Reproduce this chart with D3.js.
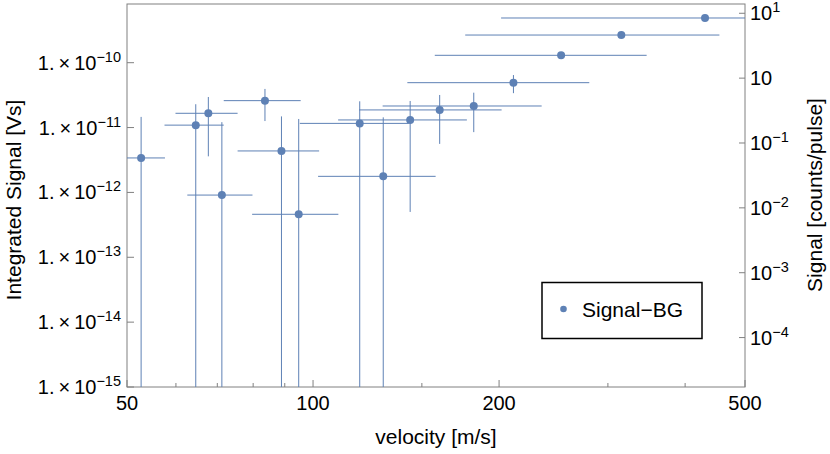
<!DOCTYPE html>
<html>
<head>
<meta charset="utf-8">
<script src="https://cdn.jsdelivr.net/npm/d3@7"></script>
<style>
  html, body { margin: 0; padding: 0; background: #fff; }
  text { font-family: "Liberation Sans", Arial, sans-serif; fill: #000; }
</style>
</head>
<body>
<svg id="chart" width="830" height="454"></svg>
<script>
// ---- data ----
const velocity = [52.7, 64.6, 67.7, 71.2, 83.6, 88.9, 94.8, 119, 129.9, 143.6, 160.3, 182, 211, 252, 315.4, 430.8];
const velocityErr = [4.9, 7.1, 7.8, 8.6, 11.9, 13.4, 15.1, 23.8, 28, 33.8, 41.6, 52.4, 68.9, 94.6, 139.1, 229.3];
const signal = [3.40e-12, 1.09e-11, 1.66e-11, 9.1e-13, 2.60e-11, 4.36e-12, 4.6e-13, 1.16e-11, 1.77e-12, 1.31e-11, 1.87e-11, 2.15e-11, 4.92e-11, 1.30e-10, 2.67e-10, 4.89e-10];
const signalErr = [1.12e-11, 1.2e-11, 1.3e-11, 1.12e-11, 1.34e-11, 1.05e-11, 1.31e-11, 1.38e-11, 1.26e-11, 1.26e-11, 1.31e-11, 1.3e-11, 1.53e-11, 1.4e-11, 1.4e-11, 1.4e-11];
const xTicks = [50, 100, 200, 500];
const xMinorTicks = [60, 70, 80, 90, 150, 300, 400];
const leftTicks = [1e-10, 1e-11, 1e-12, 1e-13, 1e-14, 1e-15];
const rightTicks = [10, 1, 0.1, 0.01, 0.001, 0.0001];
const rightTickLabels = [["10", "1"], ["10", ""], ["10", "−1"], ["10", "−2"], ["10", "−3"], ["10", "−4"]];
const seriesName = "Signal−BG";

// ---- layout ----
const L = 127, R = 745, T = 4, B = 387;
const color = "#5e81b5";
const axisColor = "#808080";

const x = d3.scaleLog().domain([50, 500]).range([L, R]);
const y = d3.scaleLog().domain([1e-15, Math.pow(10, -9.095)]).range([B, T]);
const y2 = d3.scaleLog().domain([Math.pow(10, -4.762), Math.pow(10, 1.143)]).range([B, T]);

const svg = d3.select("#chart");

svg.append("defs").append("clipPath").attr("id", "clip")
  .append("rect").attr("x", L).attr("y", T).attr("width", R - L).attr("height", B - T);

// frame
svg.append("rect").attr("x", L).attr("y", T).attr("width", R - L).attr("height", B - T)
  .attr("fill", "none").attr("stroke", axisColor).attr("stroke-width", 1);

// ticks
const tg = svg.append("g").attr("stroke", axisColor).attr("stroke-width", 1);
xTicks.forEach(v => tg.append("line").attr("x1", x(v)).attr("x2", x(v)).attr("y1", B).attr("y2", B - 7));
xMinorTicks.forEach(v => tg.append("line").attr("x1", x(v)).attr("x2", x(v)).attr("y1", B).attr("y2", B - 4));
leftTicks.forEach(v => tg.append("line").attr("x1", L).attr("x2", L + 7).attr("y1", y(v)).attr("y2", y(v)));
rightTicks.forEach(v => tg.append("line").attr("x1", R).attr("x2", R - 6).attr("y1", y2(v)).attr("y2", y2(v)));

// tick labels
const fs = 20;
xTicks.forEach(v => svg.append("text").attr("x", x(v)).attr("y", 410)
  .attr("text-anchor", "middle").attr("font-size", fs).text(v));

leftTicks.forEach(v => {
  const e = Math.round(Math.log10(v));
  const t = svg.append("text").attr("x", 121).attr("y", y(v) + 7)
    .attr("text-anchor", "end").attr("font-size", fs);
  t.append("tspan").text("1.\u2009\u00d7\u200910");
  t.append("tspan").attr("dy", -8).attr("font-size", 14.5).text("\u2212" + Math.abs(e));
});

rightTicks.forEach((v, i) => {
  const t = svg.append("text").attr("x", 750).attr("y", y2(v) + 7)
    .attr("text-anchor", "start").attr("font-size", fs);
  t.append("tspan").text(rightTickLabels[i][0]);
  if (rightTickLabels[i][1]) t.append("tspan").attr("dy", -8).attr("font-size", 14.5).text(rightTickLabels[i][1]);
});

// axis titles
svg.append("text").attr("x", 436).attr("y", 444).attr("text-anchor", "middle")
  .attr("font-size", 21).text("velocity [m/s]");
svg.append("text").attr("transform", "translate(21,200) rotate(-90)").attr("text-anchor", "middle")
  .attr("font-size", 21).text("Integrated Signal [Vs]");
svg.append("text").attr("transform", "translate(822,195) rotate(-90)").attr("text-anchor", "middle")
  .attr("font-size", 21).text("Signal [counts/pulse]");

// data
const data = velocity.map((v, i) => ({ v, ve: velocityErr[i], s: signal[i], se: signalErr[i] }));
const g = svg.append("g").attr("clip-path", "url(#clip)");
const eb = g.append("g").attr("stroke", color).attr("stroke-width", 1);
data.forEach(d => {
  const lo = d.s - d.se;
  eb.append("line").attr("x1", x(d.v - d.ve)).attr("x2", x(d.v + d.ve)).attr("y1", y(d.s)).attr("y2", y(d.s));
  eb.append("line").attr("x1", x(d.v)).attr("x2", x(d.v))
    .attr("y1", lo > 0 ? y(lo) : B + 5).attr("y2", y(d.s + d.se));
});
g.append("g").selectAll("circle").data(data).join("circle")
  .attr("cx", d => x(d.v)).attr("cy", d => y(d.s)).attr("r", 4).attr("fill", color);

// legend
const lg = svg.append("g");
lg.append("rect").attr("x", 542).attr("y", 282.5).attr("width", 160).attr("height", 56)
  .attr("fill", "#fff").attr("stroke", "#000").attr("stroke-width", 1.5);
lg.append("circle").attr("cx", 563.5).attr("cy", 309).attr("r", 3.3).attr("fill", color);
lg.append("text").attr("x", 582).attr("y", 316.5).attr("font-size", 21).text(seriesName);
</script>
</body>
</html>
